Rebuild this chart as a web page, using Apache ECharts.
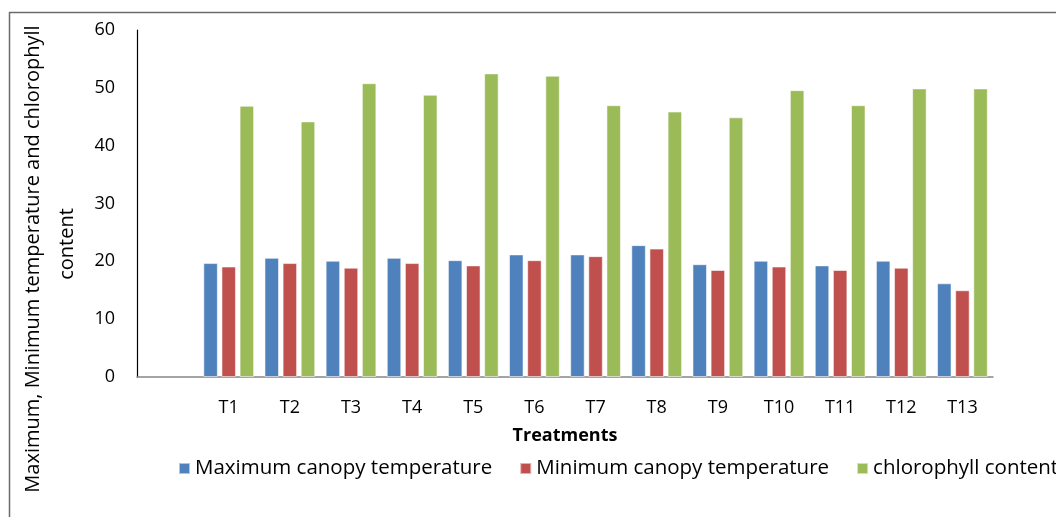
<!DOCTYPE html>
<html>
<head>
<meta charset="utf-8">
<script src="https://cdn.jsdelivr.net/npm/echarts@6/dist/echarts.min.js"></script>
<style>html,body{margin:0;padding:0;background:#fff;}#c{width:1056px;height:517px;}</style>
</head>
<body>
<div id="c"></div>
<script>
const categories = ['', 'T1', 'T2', 'T3', 'T4', 'T5', 'T6', 'T7', 'T8', 'T9', 'T10', 'T11', 'T12', 'T13'];
const maxCanopy = [null, 19.7, 20.6, 20.1, 20.6, 20.2, 21.2, 21.2, 22.8, 19.5, 20.1, 19.3, 20.1, 16.2];
const minCanopy = [null, 19.1, 19.7, 18.9, 19.7, 19.3, 20.2, 20.9, 22.2, 18.5, 19.1, 18.5, 18.9, 15.0];
const chlorophyll = [null, 46.9, 44.2, 50.8, 48.8, 52.5, 52.1, 47.0, 45.9, 44.9, 49.6, 47.0, 49.9, 49.9];
const seriesNames = ['Maximum canopy temperature', 'Minimum canopy temperature', 'chlorophyll content'];
const yTitle1 = 'Maximum, Minimum temperature and chlorophyll';
const yTitle2 = 'content';
const xTitle = 'Treatments';

const FONT = 'Open Sans';
const chart = echarts.init(document.getElementById('c'), null, {renderer: 'canvas'});
const colors = ['#4F81BD', '#C0504D', '#9BBB59'];
const mk = (name, data, color) => ({
  name, type: 'bar', data,
  barCategoryGap: '17%', barGap: '25%',
  itemStyle: {color, borderColor: 'rgba(255,255,255,0.55)', borderWidth: 1},
  emphasis: {disabled: true}
});
chart.setOption({
  animation: false,
  backgroundColor: '#fff',
  grid: {left: 137, right: 63, top: 30, bottom: 140},
  legend: {
    left: 173, top: 453, width: 1100,
    itemWidth: 11, itemHeight: 11, itemGap: 27,
    icon: 'rect',
    textStyle: {fontFamily: FONT, fontSize: 20.5, color: '#000'},
    data: seriesNames
  },
  xAxis: {
    type: 'category', data: categories,
    name: xTitle, nameLocation: 'middle', nameGap: 50,
    nameTextStyle: {fontFamily: FONT, fontSize: 18, fontWeight: 'bold', color: '#000'},
    axisLine: {lineStyle: {color: '#868686', width: 1.5}},
    axisTick: {show: false},
    axisLabel: {fontFamily: FONT, fontSize: 18, color: '#000', margin: 22, interval: 0}
  },
  yAxis: {
    type: 'value', min: 0, max: 60, interval: 10,
    axisLine: {show: true, lineStyle: {color: '#000', width: 1.2}},
    axisTick: {show: false},
    splitLine: {show: false},
    axisLabel: {fontFamily: FONT, fontSize: 18, color: '#000', margin: 22}
  },
  series: [
    mk(seriesNames[0], maxCanopy, colors[0]),
    mk(seriesNames[1], minCanopy, colors[1]),
    mk(seriesNames[2], chlorophyll, colors[2])
  ],
  graphic: [
    {type: 'line', shape: {x1: 9, y1: 12.5, x2: 1056, y2: 12.5}, style: {stroke: '#6b6b6b', lineWidth: 1.5}},
    {type: 'line', shape: {x1: 9.5, y1: 12, x2: 9.5, y2: 517}, style: {stroke: '#6b6b6b', lineWidth: 1.5}},
    {type: 'text', x: 33, y: 259, rotation: Math.PI / 2,
     style: {text: yTitle1, fontFamily: FONT, fontSize: 20, fill: '#000', textAlign: 'center', textVerticalAlign: 'middle'}},
    {type: 'text', x: 67, y: 244, rotation: Math.PI / 2,
     style: {text: yTitle2, fontFamily: FONT, fontSize: 20, fill: '#000', textAlign: 'center', textVerticalAlign: 'middle'}}
  ]
});
</script>
</body>
</html>
